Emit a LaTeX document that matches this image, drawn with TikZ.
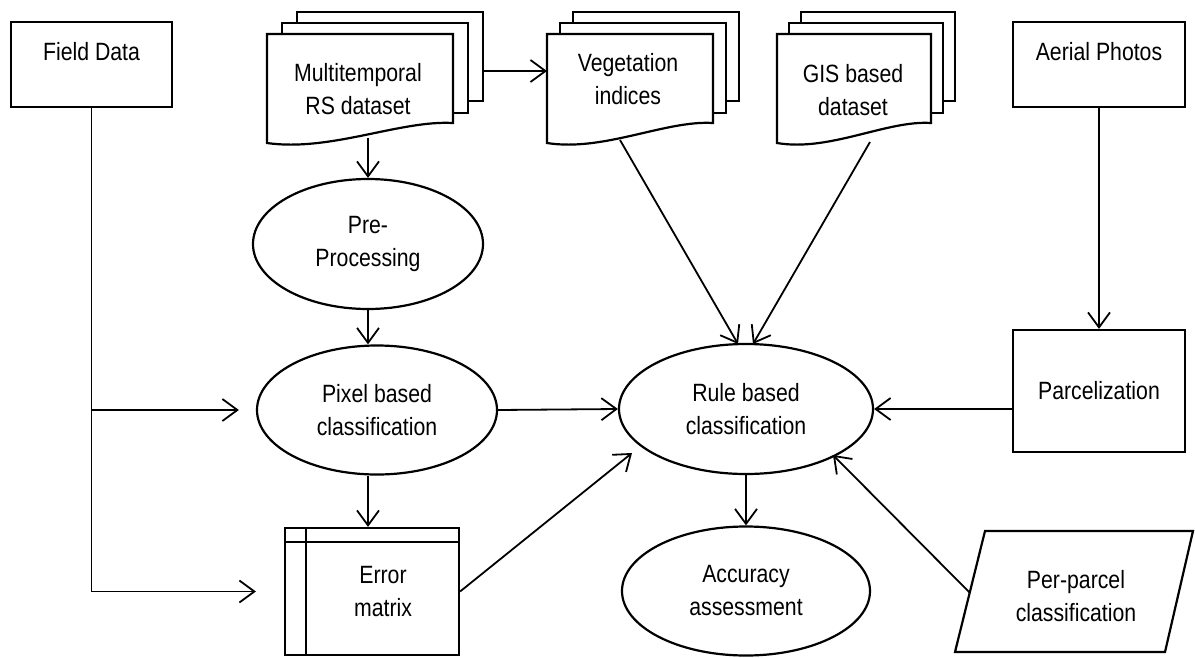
\documentclass[tikz,border=0pt]{standalone}
\usepackage{fontspec}
\setmainfont{Liberation Sans}[FakeStretch=0.85]
\usetikzlibrary{arrows.meta,shapes.geometric,backgrounds}

\newcommand\mydocs[3]{% left, width, dx
  \draw[shapeline] ({#1+2*#3},12) rectangle ({#1+#2+2*#3},101);
  \draw[shapeline] ({#1+#3},23) rectangle ({#1+#2+#3},113);
  \draw[shapeline] (#1,34) -- ({#1+#2},34) -- ({#1+#2},123)
     .. controls ({#1+0.715*#2},120) and ({#1+0.34*#2},152) .. (#1,143) -- cycle;
}

\begin{document}
\begin{tikzpicture}[x=1pt,y=-1pt,
  font=\fontsize{25}{33}\selectfont,
  shapeline/.style={draw=black, line width=2.2pt, fill=white},
  boxnode/.style={shapeline, rectangle, inner sep=0pt, align=center},
  topbox/.style={boxnode, text height=18pt, text depth=26pt},
  ellnode/.style={shapeline, ellipse, inner sep=0pt, align=center},
  txt/.style={align=center, inner sep=0pt},
  conn/.style={line width=1.8pt, -{Straight Barb[length=15pt,width=22pt]}},
]
\useasboundingbox (0,0) rectangle (1195,657);

% document stacks
\mydocs{267}{186}{15}
\mydocs{547}{166}{13}
\mydocs{777}{154}{12}
\node[txt] (multi) at (358,89) {Multitemporal\\RS dataset};
\node[txt] (veg) at (628,79) {Vegetation\\indices};
\node[txt] (gis) at (853,90) {GIS based\\dataset};

\coordinate (multiB) at (368,138);
\coordinate (multiR) at (483,71);
\coordinate (vegL) at (547,71);
\coordinate (vegB) at (620,140);
\coordinate (gisB) at (870,142);
\coordinate (ruleTL) at (738,344);
\coordinate (ruleTR) at (753,344);
\coordinate (ruleSW) at (632,453);
\coordinate (ruleSE) at (833,455);
\coordinate (ppL) at (972,595);

\node[topbox, minimum width=161pt, minimum height=85pt] (field) at (91.5,64.5) {Field Data};
\node[topbox, minimum width=172pt, minimum height=85pt] (aerial) at (1099,64.5) {Aerial Photos};
\node[ellnode, minimum width=230pt, minimum height=130pt] (pre) at (368,244) {Pre-\\Processing};
\node[ellnode, minimum width=240pt, minimum height=129pt] (pixel) at (377,410) {Pixel based\\classification};
\node[ellnode, minimum width=254pt, minimum height=130pt] (rule) at (746,409) {Rule based\\classification};
\node[ellnode, minimum width=248pt, minimum height=129pt] (acc) at (746,591) {Accuracy\\assessment};
\node[boxnode, minimum width=172pt, minimum height=122pt] (parcel) at (1099,391) {Parcelization};
\node[boxnode, minimum width=174pt, minimum height=127pt,
      label={[align=center, xshift=11pt]center:Error\\matrix}] (err) at (372,591.5) {};
\draw[line width=2.2pt] ([yshift=-15pt]err.north west) -- ([yshift=-15pt]err.north east);
\draw[line width=2.2pt] ([xshift=22pt]err.north west) -- ([xshift=22pt]err.south west);

\draw[shapeline] (985,531) -- (1193,531) -- (1165,652) -- (955,652) -- cycle;
\node[txt] (pp) at (1076,596) {Per-parcel\\classification};

\begin{pgfonlayer}{background}
\draw[conn] (multiB) -- (pre.north);
\draw[conn] (multiR) -- (vegL);
\draw[conn] (pre.south) -- (pre.south |- pixel.north);
\draw[conn] (pixel.south -| pre.south) -- (pre.south |- err.north);
\draw[conn] (vegB) -- (ruleTL);
\draw[conn] (gisB) -- (ruleTR);
\draw[conn] (aerial.south) -- (parcel.north);
\draw[conn] (parcel.west |- rule.east) -- (rule.east);
\draw[conn] (pixel.east) -- (rule.west);
\draw[conn] (rule.south) -- (acc.north);
\draw[conn] (err.east) -- (ruleSW);
\draw[conn] (ppL) -- (ruleSE);
\draw[conn, shorten >=17pt] (field.south |- pixel.west) -- (pixel.west);
\draw[conn, shorten >=28pt] (field.south) |- (err.west);
\end{pgfonlayer}
\end{tikzpicture}
\end{document}
